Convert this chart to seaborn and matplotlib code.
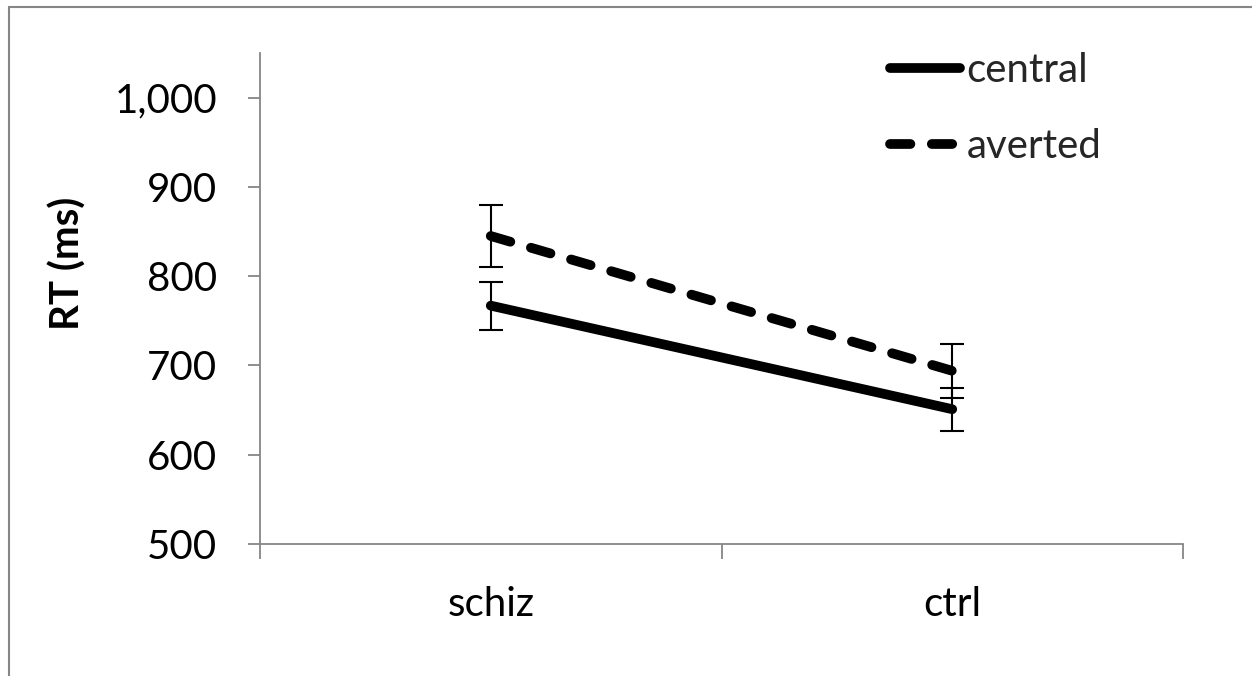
import numpy as np
import pandas as pd
import seaborn as sns
import matplotlib
matplotlib.use("Agg")
import matplotlib.pyplot as plt
from matplotlib.lines import Line2D

# ---- data ----
groups = ["schiz", "ctrl"]
central_rt = [767, 651]
central_err = [27, 24]
averted_rt = [845, 694]
averted_err = [35, 30]
series_names = ["central", "averted"]
y_ticks = [500, 600, 700, 800, 900, 1000]

df = pd.DataFrame({
    "group": groups * 2,
    "rt": central_rt + averted_rt,
    "err": central_err + averted_err,
    "gaze": [series_names[0]] * 2 + [series_names[1]] * 2,
})

sns.set_theme(style="white")
plt.rcParams["font.family"] = ["Lato", "DejaVu Sans"]

W, H = 1252, 676
fig = plt.figure(figsize=(W / 100, H / 100), dpi=100)
ax = fig.add_axes([260 / W, 1 - 544 / H, (1183 - 260) / W, (544 - 53) / H])

LW = 7
dash = (2.1, 2.2)
sns.lineplot(data=df, x="group", y="rt", style="gaze", style_order=series_names,
             dashes={"central": "", "averted": dash}, color="black", linewidth=LW,
             markers=False, legend=False, ax=ax, sort=False,
             solid_capstyle="round", dash_capstyle="round")

# error bars
xpos = {g: i for i, g in enumerate(groups)}
for _, r in df.iterrows():
    ax.errorbar(xpos[r["group"]], r["rt"], yerr=r["err"], fmt="none",
                ecolor="black", elinewidth=1.5, capsize=8.5, capthick=1.5, zorder=1)

ax.set_xlim(-0.5, 1.5)
ax.set_ylim(500, 1050)
ax.set_yticks(y_ticks)
ax.set_yticklabels([f"{v:,}" for v in y_ticks])
ax.set_xticks([0, 1])
ax.set_xticklabels(groups)
ax.set_xticks([-0.5, 0.5, 1.5], minor=True)
ax.set_xlabel("")

gray = "#868686"
for s in ["top", "right"]:
    ax.spines[s].set_visible(False)
for s in ["left", "bottom"]:
    ax.spines[s].set_color(gray)
    ax.spines[s].set_linewidth(1.3)

FS = 29
ax.tick_params(axis="y", which="major", direction="out", length=9, width=1.3,
               color=gray, pad=22, labelsize=FS, left=True)
ax.tick_params(axis="x", which="major", length=0, pad=30, labelsize=FS, bottom=True)
ax.tick_params(axis="x", which="minor", direction="out", length=11, width=1.3,
               color=gray, bottom=True)
for t in ax.get_xticklabels() + ax.get_yticklabels():
    t.set_color("black")

ax.set_ylabel("RT (ms)", fontsize=29, fontweight="bold", color="black")
ax.yaxis.set_label_coords((68 - 260) / (1183 - 260), (544 - 263) / (544 - 53))
ax.yaxis.label.set_va("center")

# legend
handles = [
    Line2D([0], [0], color="black", lw=LW, solid_capstyle="round"),
    Line2D([0], [0], color="black", lw=LW, dashes=dash, dash_capstyle="round"),
]
ax.legend(handles, series_names, loc="upper left", frameon=False, fontsize=FS,
          bbox_to_anchor=(890 / W, 1 - 52 / H), bbox_transform=fig.transFigure,
          handlelength=1.75, handletextpad=0.15, labelspacing=0.98,
          borderaxespad=0, borderpad=0)

# outer chart border (top and left visible)
fig.add_artist(Line2D([9 / W, 9 / W], [0, 1 - 7 / H], color=gray, lw=1.5,
                      transform=fig.transFigure))
fig.add_artist(Line2D([9 / W, 1], [1 - 7 / H, 1 - 7 / H], color=gray, lw=1.5,
                      transform=fig.transFigure))

fig.savefig("out.png", dpi=100, facecolor="white")
